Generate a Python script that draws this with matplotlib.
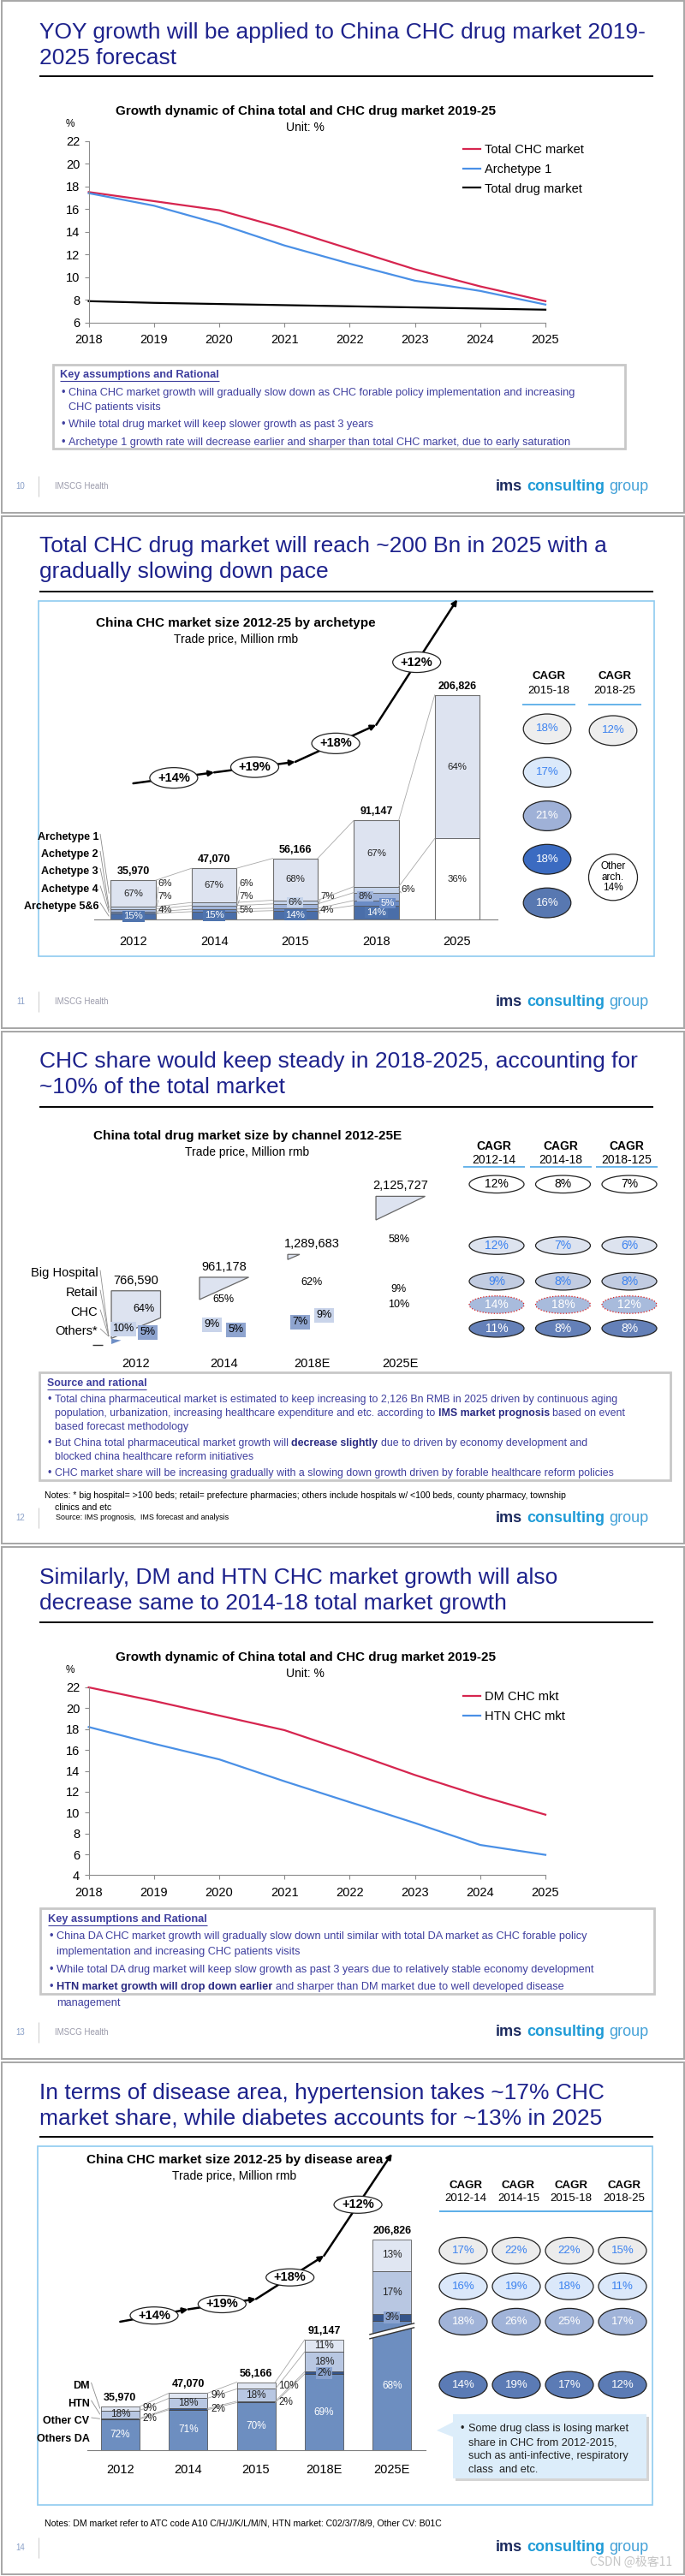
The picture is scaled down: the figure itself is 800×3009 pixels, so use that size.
import matplotlib
matplotlib.use('Agg')
import matplotlib.pyplot as plt
import numpy as np
from matplotlib.patches import Rectangle, Ellipse, Polygon

plt.rcParams['font.family'] = ['Liberation Sans', 'DejaVu Sans']

# ---------------- data ----------------
# slide 1 - growth dynamic, total vs CHC
years = [2018, 2019, 2020, 2021, 2022, 2023, 2024, 2025]
total_chc = [17.5, 16.7, 15.9, 14.3, 12.5, 10.7, 9.2, 7.9]
archetype1 = [17.4, 16.3, 14.7, 12.8, 11.2, 9.7, 8.8, 7.6]
total_drug = [7.9, 7.75, 7.65, 7.55, 7.45, 7.35, 7.25, 7.15]

# slide 2 - CHC market by archetype
arch_years = ['2012', '2014', '2015', '2018', '2025']
arch_totals = [35970, 47070, 56166, 91147, 206826]
arch_names = ['Archetype 1', 'Achetype 2', 'Achetype 3', 'Achetype 4', 'Archetype 5&6']
arch1_share = [67, 67, 68, 67, 64]
arch2_share = [6, 6, 6, 6, 0]
arch3_share = [7, 7, 7, 8, 0]
arch4_share = [4, 5, 4, 5, 0]
arch56_share = [15, 15, 14, 14, 0]
other_arch_share = [0, 0, 0, 0, 36]
arch_growth = ['+14%', '+19%', '+18%', '+12%']
arch_cagr_1518 = ['18%', '17%', '21%', '18%', '16%']
arch_cagr_1825 = ['12%', 'Other\narch.\n14%']

# slide 3 - total market by channel
channel_years = ['2012', '2014', '2018E', '2025E']
channel_totals = [766590, 961178, 1289683, 2125727]
channel_names = ['Big Hospital', 'Retail', 'CHC', 'Others*']
hospital_share = [64, 65, 62, 58]
retail_share = [10, 9, 9, 9]
chc_share = [5, 5, 7, 10]
channel_periods = ['2012-14', '2014-18', '2018-125']
cagr_total = ['12%', '8%', '7%']
cagr_hospital = ['12%', '7%', '6%']
cagr_retail = ['9%', '8%', '8%']
cagr_chc = ['14%', '18%', '12%']
cagr_others = ['11%', '8%', '8%']

# slide 4 - DM / HTN growth
dm_chc = [22.0, 20.7, 19.3, 17.9, 15.8, 13.6, 11.6, 9.8]
htn_chc = [18.2, 16.6, 15.1, 13.0, 11.0, 9.0, 6.9, 5.95]

# slide 5 - CHC market by disease area
da_years = ['2012', '2014', '2015', '2018E', '2025E']
da_totals = [35970, 47070, 56166, 91147, 206826]
da_names = ['DM', 'HTN', 'Other CV', 'Others DA']
dm_share = [9, 9, 10, 11, 13]
htn_share = [18, 18, 18, 18, 17]
other_cv_share = [2, 2, 2, 2, 3]
others_da_share = [72, 71, 70, 69, 68]
da_growth = ['+14%', '+19%', '+18%', '+12%']
da_periods = ['2012-14', '2014-15', '2015-18', '2018-25']
cagr_dm = ['17%', '22%', '22%', '15%']
cagr_htn = ['16%', '19%', '18%', '11%']
cagr_other_cv = ['18%', '26%', '25%', '17%']
cagr_others_da = ['14%', '19%', '17%', '12%']

# ---------------- canvas (pixel coords, y down) ----------------
W, H = 800, 3009
fig = plt.figure(figsize=(W / 100, H / 100), dpi=100)
fig.patch.set_facecolor('white')
bg = fig.add_axes([0, 0, 1, 1], zorder=0)
fg = fig.add_axes([0, 0, 1, 1], zorder=5)
for a in (bg, fg):
    a.set_xlim(0, W)
    a.set_ylim(H, 0)
    a.axis('off')
rend = fig.canvas.get_renderer()

NAVY = '#1d228c'
BODY = '#3f3f9e'
BODYB = '#2a2a82'
LBLUE = '#3b82f0'
RED = '#d6254f'
BLUE = '#4a90e6'


def rect(l, t, r, b):
    return [l / W, 1 - b / H, (r - l) / W, (b - t) / H]


def T(x, y, s, size=9, color='black', ha='left', va='center', weight='normal', **kw):
    return fg.text(x, y, s, fontsize=size, color=color, ha=ha, va=va,
                   fontweight=weight, **kw)


def width_of(t):
    return t.get_window_extent(rend).width


def rich(x, y, parts, size, ha='left'):
    sp = size * 100 / 72 * 0.278
    texts, cx = [], x
    for s, w, c in parts:
        t = T(cx, y, s, size, c, weight=w)
        cx += width_of(t) + sp
        texts.append(t)
    total = cx - sp - x
    if ha == 'right':
        for t in texts:
            t.set_x(t.get_position()[0] - total)
    return total


def px(ax, x, y):
    dx, dy = ax.transData.transform((x, y))
    return dx, H - dy


def line(xs, ys, color='#a0a0a0', lw=0.6, ax=None):
    (ax or fg).plot(xs, ys, color=color, lw=lw, solid_capstyle='butt')


def ellipse_label(x, y, w, h, s, fc='white', ec='#222222', tc='black', size=9,
                  weight='normal', ls='-', lw=0.9):
    fg.add_patch(Ellipse((x, y), w, h, fc=fc, ec=ec, lw=lw, ls=ls))
    T(x, y, s, size, tc, ha='center', weight=weight)


def slide_title(y1, lines, rule_y):
    for i, s in enumerate(lines):
        T(46, y1 + i * 30, s, 19, NAVY)
    line([46, 763], [rule_y, rule_y], 'black', 1.4, bg)


def footer(y, num, health=True):
    T(24, y, num, 7, '#8aa0c8', ha='center')
    line([45, 45], [y - 12, y + 12], '#cfcfcf', 0.8)
    if health:
        T(64, y, 'IMSCG Health', 7, '#9a9aaa')
    rich(757, y, [('ims', 'bold', '#1b2a5e'), ('consulting', 'bold', '#1f9bd7'),
                  ('group', 'normal', '#45a2d8')], 13, ha='right')


def note_box(l, t, r, b, heading, hx, hy, rows, bx, tx, ys, size):
    bg.add_patch(Rectangle((l, t), r - l, b - t, fc='white', ec='#c8c8c8', lw=2))
    h = T(hx, hy, heading, size, BODY, weight='bold')
    line([hx, hx + width_of(h)], [hy + 7, hy + 7], BODY, 0.8)
    for (bullet, parts), y in zip(rows, ys):
        if bullet:
            T(bx, y, '\u2022', size, BODY)
        rich(tx, y, [(s, w, BODYB if w == 'bold' else BODY) for s, w in parts], size)


def trend(ax, levels, labels, ew, eh):
    for i in range(len(levels) - 1):
        ax.annotate('', xy=(i + 1, levels[i + 1]), xytext=(i, levels[i]),
                    arrowprops=dict(arrowstyle='-|>', color='black', lw=1.8,
                                    mutation_scale=9, shrinkA=0, shrinkB=0),
                    annotation_clip=False)
        mx, my = px(ax, i + 0.5, (levels[i] + levels[i + 1]) / 2)
        ellipse_label(mx, my, ew, eh, labels[i], size=10.5, weight='bold')


def growth_chart(l, t, r, b, ylo, series, leg_top, title_y, pct_y):
    T(357, title_y, 'Growth dynamic of China total and CHC drug market 2019-25',
      11, weight='bold', ha='center')
    T(356, title_y + 19, 'Unit: %', 10, ha='center')
    T(82, pct_y, '%', 8.5, ha='center')
    ax = fig.add_axes(rect(l, t, r, b), zorder=2)
    ax.patch.set_alpha(0)
    for name, vals, col in series:
        ax.plot(years, vals, color=col, lw=1.6, label=name, clip_on=False)
    ax.set_xlim(2018, 2025)
    ax.set_ylim(ylo, 22)
    ax.set_yticks(range(ylo, 23, 2))
    ax.set_xticks(years)
    for s in ('top', 'right'):
        ax.spines[s].set_visible(False)
    for s in ('left', 'bottom'):
        ax.spines[s].set_color('#8c8c8c')
        ax.spines[s].set_linewidth(0.8)
    ax.tick_params(colors='#8c8c8c', labelcolor='black', labelsize=10.5,
                   length=3.5, width=0.8)
    ax.tick_params(axis='x', pad=6)
    ax.tick_params(axis='y', pad=4)
    ax.legend(loc='upper left', bbox_to_anchor=(541, leg_top), bbox_transform=bg.transData,
              frameon=False, fontsize=10.5, handlelength=1.37, handletextpad=0.34,
              labelspacing=0.6, borderpad=0, borderaxespad=0)
    return ax


# ---------------- slide frames ----------------
for k in range(5):
    bg.add_patch(Rectangle((1.5, 602 * k + 1), 797, 598, fill=False, ec='#a6a6a6', lw=1.4))

# ================= slide 1 =================
slide_title(38, ['YOY growth will be applied to China CHC drug market 2019-', '2025 forecast'], 89)
growth_chart(103.6, 164.6, 637, 377, 6,
             [('Total CHC market', total_chc, RED), ('Archetype 1', archetype1, BLUE),
              ('Total drug market', total_drug, 'black')], 168, 130, 145)
note_box(62, 425.6, 730, 523.5, 'Key assumptions and Rational', 70, 438,
         [(True, [('China CHC market growth will gradually slow down as CHC forable policy implementation and increasing', 'normal')]),
          (False, [('CHC patients visits', 'normal')]),
          (True, [('While total drug market will keep slower growth as past 3 years', 'normal')]),
          (True, [('Archetype 1 growth rate will decrease earlier and sharper than total CHC market, due to early saturation', 'normal')])],
         71, 80, [458.5, 475.7, 496, 516.6], 9.2)
footer(568, '10')

# ================= slide 2 =================
slide_title(638, ['Total CHC drug market will reach ~200 Bn in 2025 with a', 'gradually slowing down pace'], 691)
bg.add_patch(Rectangle((45, 702), 719, 415, fill=False, ec='#8fcbf0', lw=1.2))
T(275.5, 728, 'China CHC market size 2012-25 by archetype', 11, weight='bold', ha='center')
T(275.5, 746.6, 'Trade price, Million rmb', 10, ha='center')

ax2 = fig.add_axes(rect(110, 700, 580.6, 1073.8), zorder=2)
ax2.patch.set_alpha(0)
ax2.set_xlim(-0.482, 4.493)
ax2.set_ylim(0, 373.8 / 1.267 * 1000)
xi = np.arange(len(arch_years))
bw = 0.555
seg_shares = [arch56_share, arch4_share, arch3_share, arch2_share, other_arch_share, arch1_share]
seg_colors = ['#4a6ea9', '#6b8cc6', '#9fb3d9', '#c5d3ea', 'white', '#dde3f0']
sums = [sum(s[i] for s in seg_shares) for i in range(len(xi))]
bottoms = np.zeros(len(xi))
bounds = []
for shares, col in zip(seg_shares, seg_colors):
    vals = np.array([arch_totals[i] * shares[i] / sums[i] for i in range(len(xi))])
    ax2.bar(xi, vals, bw, bottom=bottoms, color=col, edgecolor='#505050', linewidth=0.5)
    bounds.append((bottoms.copy(), bottoms + vals))
    bottoms = bottoms + vals
ax2.bar(xi, arch_totals, bw, fill=False, edgecolor='#707070', linewidth=0.8)
for s in ('top', 'right', 'left'):
    ax2.spines[s].set_visible(False)
ax2.spines['bottom'].set_color('#7f7f7f')
ax2.set_yticks([])
ax2.set_xticks(xi)
ax2.set_xticklabels(arch_years, fontsize=10.5)
ax2.tick_params(axis='x', length=0, pad=14)

# connectors between bars
for i in range(len(xi) - 1):
    if i < 3:
        levs = [bounds[k][1] for k in (0, 1, 2, 3, 5)]
    else:
        levs = [bounds[5][0], bounds[5][1]]
    for lv in levs:
        ax2.plot([i + bw / 2, i + 1 - bw / 2], [lv[i], lv[i + 1]], color='#a8a8a8', lw=0.6)

# totals
for i, v in enumerate(arch_totals):
    cx, ty = px(ax2, i, v)
    T(cx, ty - 10, f'{v:,}', 9, weight='bold', ha='center')

# segment labels
small_pos = [[('out', 1031.7), ('out', 1047.3), ('out', 1063.3)],
             [('out', 1031.7), ('out', 1047.3), ('out', 1063.3)],
             [('in', 0), ('out', 1047.3), ('out', 1063.3)],
             [('out', None), ('in', -13), ('in', 13)]]
small_idx = [3, 2, 1]  # arch2, arch3, arch4 in seg_shares
for i in range(len(xi)):
    lo, hi = bounds[5][0][i], bounds[5][1][i]
    cx, my = px(ax2, i, (lo + hi) / 2)
    T(cx, my, f'{arch1_share[i]}%', 8.2, '#222222', ha='center')
    if i == 4:
        cx, my = px(ax2, i, bounds[4][1][i] / 2)
        T(cx, my, f'{other_arch_share[i]}%', 8.2, '#222222', ha='center')
        continue
    cx, my = px(ax2, i, bounds[0][1][i] / 2)
    T(cx, my, f'{arch56_share[i]}%', 8.2, 'white', ha='center',
      bbox=dict(boxstyle='square,pad=0.15', fc='#4f74ae', ec='none'))
    rx = px(ax2, i + bw / 2, 0)[0]
    for (mode, val), k in zip(small_pos[i], small_idx):
        share = seg_shares[k][i]
        sy = px(ax2, i, (bounds[k][0][i] + bounds[k][1][i]) / 2)[1]
        if mode == 'out':
            ly = sy if val is None else val
            T(rx + 3, ly, f'{share}%', 8.2, '#222222')
            line([rx, rx + 3], [sy, ly + 4], '#8a8a8a', 0.5)
        else:
            tc = 'white' if k == 1 else '#222222'
            fc = {3: '#c5d3ea', 2: '#9fb3d9', 1: '#6b8cc6'}[k]
            T(cx + val, sy, f'{share}%', 8.2, tc, ha='center',
              bbox=dict(boxstyle='square,pad=0.1', fc=fc, ec='none'))

# left labels with leaders
for j, (nm, ly) in enumerate(zip(arch_names, [978, 998, 1018, 1038.6, 1058.5])):
    T(115, ly, nm, 9, weight='bold', ha='right')
    k = [5, 3, 2, 1, 0][j]
    lx, sy = px(ax2, -bw / 2, (bounds[k][0][0] + bounds[k][1][0]) / 2)
    line([117, lx - 2], [ly - 4, sy], '#8a8a8a', 0.6)

trend(ax2, [125300, 135400, 145100, 179200, 294800], arch_growth, 56, 24)

# CAGR columns
for cx, period in [(641, '2015-18'), (718, '2018-25')]:
    T(cx, 790, 'CAGR', 9.5, weight='bold', ha='center')
    T(cx, 806.7, period, 9.5, ha='center')
    line([cx - 31, cx + 31], [823, 823], '#5aaee8', 1.3)
c_fc = ['#eeeeee', '#dbe9fa', '#9fb1d7', '#3b6bc1', '#5878b1']
c_tc = [LBLUE, LBLUE, 'white', 'white', 'white']
for s, y, fc, tc in zip(arch_cagr_1518, [851.4, 902, 953, 1003.7, 1054.6], c_fc, c_tc):
    ellipse_label(639, y, 55.6, 34.8, s, fc=fc, tc=tc, size=9.5)
ellipse_label(716, 853.4, 55.6, 34.8, arch_cagr_1825[0], fc='#eeeeee', tc=LBLUE, size=9.5)
fg.add_patch(Ellipse((716, 1024.8), 57, 54, fc='white', ec='#222222', lw=0.9))
T(716, 1024.8, arch_cagr_1825[1], 8.5, ha='center', linespacing=1.05)
footer(1170, '11')

# ================= slide 3 =================
slide_title(1240, ['CHC share would keep steady in 2018-2025, accounting for', '~10% of the total market'], 1292.6)
T(289, 1327, 'China total drug market size by channel 2012-25E', 11, weight='bold', ha='center')
T(289, 1346, 'Trade price, Million rmb', 10, ha='center')

ax3 = fig.add_axes(rect(105, 1300, 520, 1570), zorder=2)
ax3.patch.set_alpha(0)
ax3.set_xlim(-0.522, 3.507)
ax3.set_ylim(0, 270 / 0.0812 * 1000)
bw3 = 0.558
# visible part of each (partly rendered) bar: (dx as fraction of width, drop as fraction of height)
bar_shapes = [[(-.5, 0), (.5, 0), (.5, .508), (-.5, .894)],
              [(-.5, 0), (.5, 0), (-.5, .333)],
              [(-.5, 0), (-.257, 0), (-.5, .057)],
              [(-.5, 0), (.5, 0), (-.5, .16)]]
for i, (tot, shp) in enumerate(zip(channel_totals, bar_shapes)):
    ax3.fill([i + dx * bw3 for dx, dy in shp], [tot * (1 - dy) for dx, dy in shp],
             fc='#dde3f0', ec='#666666', lw=0.9)
ax3.fill([-.5 * bw3, -.5 * bw3, -.3 * bw3], [0, 0.1 * channel_totals[0], 0.07 * channel_totals[0]],
         fc='#6f8fc6', ec='none')
for s in ax3.spines.values():
    s.set_visible(False)
ax3.set_yticks([])
ax3.set_xticks(range(len(channel_years)))
ax3.set_xticklabels(channel_years, fontsize=10.5)
ax3.tick_params(axis='x', length=0, pad=11.5)
line([108, 120], [1571, 1571], '#333333', 1.0)

hosp_off = [(9, -41), (-1, -52), (-1, -72), (-2, -122)]
retail_off = [(-15, -18), (-14, -23), (14, -34), (-2, -64)]
chc_off = [(14, -14), (14, -17), (-14, -26), (-2, -46)]
for i, tot in enumerate(channel_totals):
    cx, ty = px(ax3, i, tot)
    by = px(ax3, i, 0)[1]
    T(cx, ty - 12, f'{tot:,}', 10.5, ha='center')
    T(cx + hosp_off[i][0], by + hosp_off[i][1], f'{hospital_share[i]}%', 9, ha='center')
    boxed = i < 3
    T(cx + retail_off[i][0], by + retail_off[i][1], f'{retail_share[i]}%', 9, ha='center',
      bbox=dict(boxstyle='square,pad=0.2', fc='#c9d4ea', ec='none') if boxed else None)
    T(cx + chc_off[i][0], by + chc_off[i][1], f'{chc_share[i]}%', 9, ha='center',
      bbox=dict(boxstyle='square,pad=0.2', fc='#8ea4cf', ec='none') if boxed else None)
for nm, y in zip(channel_names, [1486.7, 1509.7, 1532.7, 1555]):
    T(114.3, y, nm, 10.5, ha='right')
    line([117, 127], [y - 3, 1561], '#909090', 0.6)

cols3 = [577, 654.5, 732]
for cx, period in zip(cols3, channel_periods):
    T(cx, 1339.3, 'CAGR', 10, weight='bold', ha='center')
    T(cx, 1355, period, 10, ha='center')
    line([cx - 36, cx + 36], [1363.3, 1363.3], '#5aaee8', 1.3)
row_y = [1383.3, 1455, 1496.7, 1524, 1551.7]
row_fc = ['white', '#dde3ef', '#c2cce1', '#a8bbdc', '#6480b8']
row_tc = ['black', LBLUE, LBLUE, 'white', 'white']
row_ec = ['#222222', '#222222', '#222222', '#e02020', '#222222']
for vals, y, fc, tc, ec in zip([cagr_total, cagr_hospital, cagr_retail, cagr_chc, cagr_others],
                               row_y, row_fc, row_tc, row_ec):
    for cx, s in zip(cols3, vals):
        ellipse_label(cx + 3, y, 64, 20.5, s, fc=fc, ec=ec, tc=tc, size=10,
                      ls=':' if ec == '#e02020' else '-')

note_box(46, 1603, 783, 1729, 'Source and rational', 54.6, 1616,
         [(True, [('Total china pharmaceutical market is estimated to keep increasing to 2,126 Bn RMB in 2025 driven by continuous aging', 'normal')]),
          (False, [('population, urbanization, increasing healthcare expenditure and etc. according to', 'normal'),
                   ('IMS market prognosis', 'bold'), ('based on event', 'normal')]),
          (False, [('based forecast methodology', 'normal')]),
          (True, [('But China total pharmaceutical market growth will', 'normal'), ('decrease slightly', 'bold'),
                  ('due to driven by economy development and', 'normal')]),
          (False, [('blocked china healthcare reform initiatives', 'normal')]),
          (True, [('CHC market share will be increasing gradually with a slowing down growth driven by forable healthcare reform policies', 'normal')])],
         56, 64, [1635, 1650.8, 1667, 1686, 1701.7, 1721], 8.9)
T(52.5, 1746.5, 'Notes: * big hospital= >100 beds; retail= prefecture pharmacies; others include hospitals w/ <100 beds, county pharmacy, township', 7.6)
T(64, 1760.6, 'clinics and etc', 7.6)
T(65, 1772, 'Source: IMS prognosis,  IMS forecast and analysis', 6.5)
footer(1773, '12', health=False)

# ================= slide 4 =================
slide_title(1843, ['Similarly, DM and HTN CHC market growth will also', 'decrease same to 2014-18 total market growth'], 1895)
growth_chart(103.6, 1971, 637, 2190.4, 4,
             [('DM CHC mkt', dm_chc, RED), ('HTN CHC mkt', htn_chc, BLUE)], 1975, 1935.9, 1951)
note_box(47.4, 2229, 764, 2329, 'Key assumptions and Rational', 56, 2242,
         [(True, [('China DA CHC market growth will gradually slow down until similar with total DA market as CHC forable policy', 'normal')]),
          (False, [('implementation and increasing CHC patients visits', 'normal')]),
          (True, [('While total DA drug market will keep slow growth as past 3 years due to relatively stable economy development', 'normal')]),
          (True, [('HTN market growth will drop down earlier', 'bold'),
                  ('and sharper than DM market due to well developed disease', 'normal')]),
          (False, [('management', 'normal')])],
         57.6, 65.8, [2262, 2280, 2300.6, 2321, 2339.6], 9.2)
footer(2374, '13')

# ================= slide 5 =================
slide_title(2444.7, ['In terms of disease area, hypertension takes ~17% CHC', 'market share, while diabetes accounts for ~13% in 2025'], 2496.3)
bg.add_patch(Rectangle((44, 2506.8), 718, 418.7, fill=False, ec='#8fcbf0', lw=1.2))
T(274, 2523.5, 'China CHC market size 2012-25 by disease area', 11, weight='bold', ha='center')
T(274, 2542, 'Trade price, Million rmb', 10, ha='center')

ax5 = fig.add_axes(rect(102, 2505, 497.4, 2862.2), zorder=2)
ax5.patch.set_alpha(0)
ax5.set_xlim(-0.483, 4.5)
ax5.set_ylim(0, 357.2 / 1.4186 * 1000)
xi5 = np.arange(len(da_years))
bw5 = 0.567
axis_break = [0, 0, 0, 0, 33000]   # last bar drawn with a broken base
d_shares = [others_da_share, other_cv_share, htn_share, dm_share]
d_colors = ['#6d8ec0', '#34548a', '#b8c7e2', '#e0e6f2']
dsum = [sum(s[i] for s in d_shares) for i in range(len(xi5))]
bottoms = np.zeros(len(xi5))
dbounds = []
for k, (shares, col) in enumerate(zip(d_shares, d_colors)):
    vals = np.array([da_totals[i] * shares[i] / dsum[i] - (axis_break[i] if k == 0 else 0)
                     for i in range(len(xi5))])
    ax5.bar(xi5, vals, bw5, bottom=bottoms, color=col, edgecolor='#404040', linewidth=0.5)
    dbounds.append((bottoms.copy(), bottoms + vals))
    bottoms = bottoms + vals
for s in ('top', 'right', 'left'):
    ax5.spines[s].set_visible(False)
ax5.spines['bottom'].set_color('#7f7f7f')
ax5.set_yticks([])
ax5.set_xticks(xi5)
ax5.set_xticklabels(da_years, fontsize=10.5)
ax5.tick_params(axis='x', length=0, pad=11.5)

# break marks on 2025E
bl, ty = px(ax5, 4 - bw5 / 2, dbounds[0][1][4])
br = px(ax5, 4 + bw5 / 2, 0)[0]
fg.add_patch(Polygon([(bl - 4, ty + 15.5), (br + 4, ty + 2.2), (br + 4, ty + 7.2), (bl - 4, ty + 20.5)],
                     closed=True, fc='white', ec='none'))
line([bl - 4, br + 4], [ty + 15.5, ty + 2.2], '#333333', 1.0)
line([bl - 4, br + 4], [ty + 20.5, ty + 7.2], '#333333', 1.0)

for i in range(3):
    for lo, hi in dbounds:
        ax5.plot([i + bw5 / 2, i + 1 - bw5 / 2], [hi[i], hi[i + 1]], color='#a8a8a8', lw=0.6)

for i, v in enumerate(da_totals):
    cx, ty = px(ax5, i, bottoms[i])
    T(cx, ty - 10, f'{v:,}', 9, weight='bold', ha='center')

da_outside = [True, True, True, False, False]
for i in range(len(xi5)):
    rx = px(ax5, i + bw5 / 2, 0)[0]
    for k, shares in enumerate(d_shares):
        cx, my = px(ax5, i, (dbounds[k][0][i] + dbounds[k][1][i]) / 2)
        s = f'{shares[i]}%'
        if k in (1, 3) and da_outside[i]:
            T(rx + 4, my, s, 8.5, '#222222')
        elif k == 1:
            T(cx, my, s, 8.5, '#222222', ha='center',
              bbox=dict(boxstyle='square,pad=0.1', fc='#8aa3cf', ec='none'))
        else:
            T(cx, my, s, 8.5, 'white' if k == 0 else '#222222', ha='center')

for j, (nm, ly) in enumerate(zip(da_names, [2787, 2807.8, 2828, 2848.6])):
    T(104.6, ly, nm, 9, weight='bold', ha='right')
    k = 3 - j
    lx, sy = px(ax5, -bw5 / 2, (dbounds[k][0][0] + dbounds[k][1][0]) / 2)
    if j < 3:
        line([106.5, lx - 1], [ly - 4, sy], '#8a8a8a', 0.6)

trend(ax5, [105900, 116100, 124600, 160200, 244300], da_growth, 56, 20)

for cx, period in zip([544, 605.5, 667, 729], da_periods):
    T(cx, 2553.4, 'CAGR', 9.5, weight='bold', ha='center')
    T(cx, 2568, period, 9.5, ha='center')
line([512.8, 762], [2582.5, 2582.5], '#5aaee8', 1.4)
for vals, y, fc, tc in zip([cagr_dm, cagr_htn, cagr_other_cv, cagr_others_da],
                           [2629, 2670.7, 2711.9, 2785.7],
                           ['#ececec', '#dbe8fa', '#a0b3d8', '#5b7bb5'],
                           [LBLUE, LBLUE, 'white', 'white']):
    for cx, s in zip([541, 603, 665, 727], vals):
        ellipse_label(cx, y, 56, 31, s, fc=fc, tc=tc, size=9.5)

# callout
bg.add_patch(Rectangle((532, 2822.5), 226, 75.7, fc='#d4d4d4', ec='none'))
fg.add_patch(Rectangle((529, 2819.5), 226, 75.7, fc='#dcedfa', ec='none'))
fg.add_patch(Polygon([(529.5, 2829), (510, 2839), (529.5, 2846.7)], closed=True, fc='#dcedfa', ec='none'))
T(538, 2837, '\u2022', 9, '#222222')
for s, y in zip(['Some drug class is losing market', 'share in CHC from 2012-2015,',
                 'such as anti-infective, respiratory', 'class  and etc.'],
                [2837, 2853, 2869, 2884.7]):
    T(547, y, s, 9.2, '#222222')

T(52.5, 2947.6, 'Notes: DM market refer to ATC code A10 C/H/J/K/L/M/N, HTN market: C02/3/7/8/9, Other CV: B01C', 7.6)
footer(2976, '14', health=False)
T(785, 2992.7, 'CSDN @极客11', 10, '#c4c4c4', ha='right',
  family=['Noto Sans CJK SC', 'DejaVu Sans'])

fig.savefig('out.png', dpi=100)
